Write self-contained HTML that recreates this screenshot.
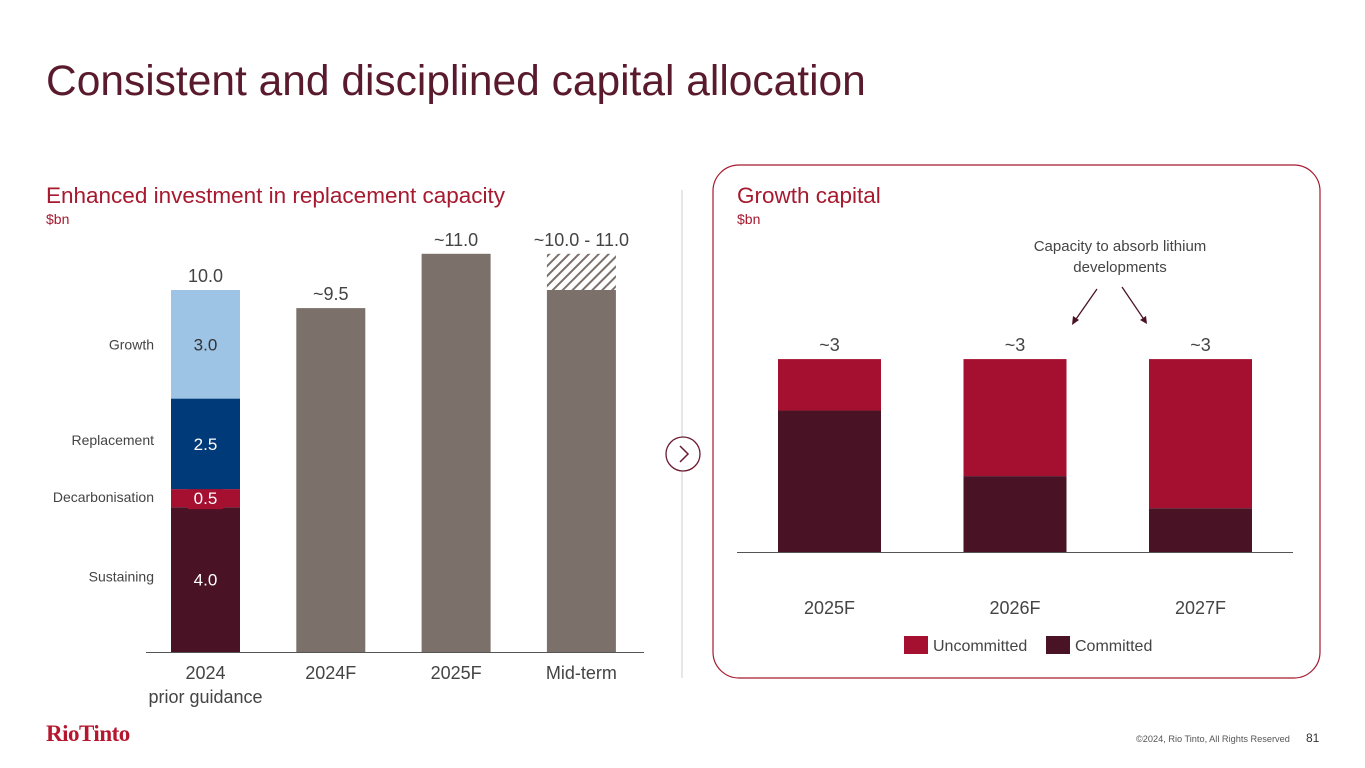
<!DOCTYPE html>
<html><head><meta charset="utf-8"><style>
body{margin:0;width:1365px;height:768px;background:#fff;font-family:"Liberation Sans",sans-serif;overflow:hidden;position:relative}
.t{position:absolute;white-space:nowrap}
</style></head><body>
<div class="t" style="left:46px;top:58px;font-size:42.5px;color:#5a1a2e">Consistent and disciplined capital allocation</div>
<div class="t" style="left:46px;top:183px;font-size:22.5px;color:#a6192e">Enhanced investment in replacement capacity</div>
<div class="t" style="left:46px;top:211px;font-size:14px;color:#a6192e">$bn</div>
<div class="t" style="left:737px;top:183px;font-size:22.5px;color:#a6192e">Growth capital</div>
<div class="t" style="left:737px;top:211px;font-size:14px;color:#a6192e">$bn</div>
<div class="t" style="left:46px;top:721px;font-size:23px;color:#b5172f;font-family:'Liberation Serif',serif;font-weight:bold;letter-spacing:-0.5px">RioTinto</div>
<div class="t" style="left:1136px;top:734px;font-size:9.2px;color:#555">©2024, Rio Tinto, All Rights Reserved</div>
<div class="t" style="left:1306px;top:731px;font-size:12px;color:#333">81</div>
<svg id="s" width="1365" height="768" style="position:absolute;left:0;top:0" font-family="Liberation Sans, sans-serif">
<defs><pattern id="hatch" patternUnits="userSpaceOnUse" width="7" height="7" patternTransform="rotate(45)"><rect width="7" height="7" fill="#fff"/><rect width="2" height="7" fill="#7b706a"/></pattern></defs>
<line x1="682" y1="190" x2="682" y2="678" stroke="#ccc"/>
<rect x="713" y="165" width="607" height="513" rx="26" fill="none" stroke="#a6192e" stroke-width="1.2"/>
<circle cx="683" cy="454" r="17" fill="#fff" stroke="#6b1a30" stroke-width="1.3"/>
<path d="M680 446 L688 454 L680 462" fill="none" stroke="#6b1a30" stroke-width="1.5"/>
<text x="1120" y="251" font-size="15" fill="#444" text-anchor="middle">Capacity to absorb lithium</text>
<text x="1120" y="272" font-size="15" fill="#444" text-anchor="middle">developments</text>
<line x1="1097" y1="289" x2="1074" y2="322" stroke="#4a1325" stroke-width="1.3"/><path d="M1072 325 l1 -9 l6 4z" fill="#4a1325"/>
<line x1="1122" y1="287" x2="1145" y2="321" stroke="#4a1325" stroke-width="1.3"/><path d="M1147 324 l-7 -4 l6 -4z" fill="#4a1325"/>
<rect x="904" y="636" width="24" height="18" fill="#a50f30"/>
<text x="933" y="651" font-size="16" fill="#444">Uncommitted</text>
<rect x="1046" y="636" width="24" height="18" fill="#4a1325"/>
<text x="1075" y="651" font-size="16" fill="#444">Committed</text>
</svg>
<script>
const leftCats=["2024","2024F","2025F","Mid-term"];
const stackNames=["Sustaining","Decarbonisation","Replacement","Growth"];
const stackVals=[4.0,0.5,2.5,3.0];
const totals=[10.0,9.5,11.0,10.0];
const rangeTop=[null,null,null,11.0];
const topLabels=["10.0","~9.5","~11.0","~10.0 - 11.0"];
const rightCats=["2025F","2026F","2027F"];
const committed=[2.2,1.18,0.68];
const rightTotals=[3,3,3];
const rightLabels=["~3","~3","~3"];
const s=document.getElementById('s');const NS='http://www.w3.org/2000/svg';
function mk(t,a,txt){const e=document.createElementNS(NS,t);for(const k in a)e.setAttribute(k,a[k]);if(txt!=null)e.textContent=txt;s.appendChild(e);return e;}
const yL=v=>652-v*36.2, xL=i=>171+i*125.3, bwL=69;
const stackCols=["#4a1325","#a50f30","#003a78","#9dc3e5"];
let base=0;
stackVals.forEach((v,j)=>{const r=mk('rect',{x:xL(0),y:yL(base+v),width:bwL,height:yL(base)-yL(base+v),fill:stackCols[j]});


const cy=(yL(base)+yL(base+v))/2;
if(j==1){mk('rect',{x:xL(0)+17,y:cy-11,width:35,height:22,fill:"#a50f30"});}
const l=mk('text',{x:xL(0)+bwL/2,y:cy+6,'font-size':17,fill:j==3?"#333":"#fff",'text-anchor':'middle'},v.toFixed(1));


const n=mk('text',{x:154,y:cy+(j==0?2:j==1?4:j==2?1:5),'font-size':14,fill:'#444','text-anchor':'end'},stackNames[j]);


base+=v;});
for(let i=1;i<4;i++){const r=mk('rect',{x:xL(i),y:yL(totals[i]),width:bwL,height:652-yL(totals[i]),fill:'#7b706a'});


if(rangeTop[i]!=null){const h=mk('rect',{x:xL(i),y:yL(rangeTop[i]),width:bwL,height:yL(totals[i])-yL(rangeTop[i]),fill:'url(#hatch)'});

}}
for(let i=0;i<4;i++){const top=rangeTop[i]!=null?rangeTop[i]:totals[i];
const t=mk('text',{x:xL(i)+bwL/2,y:yL(top)-8,'font-size':18,fill:'#444','text-anchor':'middle'},topLabels[i]);


const c=mk('text',{x:xL(i)+bwL/2,y:679,'font-size':18,fill:'#444','text-anchor':'middle'},leftCats[i]);

}
const pg=mk('text',{x:xL(0)+bwL/2,y:703,'font-size':18,fill:'#444','text-anchor':'middle'},'prior guidance');


mk('line',{x1:146,x2:644,y1:652.5,y2:652.5,stroke:'#555','stroke-width':1});
const yR=v=>552-v*64.3, xR=i=>778+i*185.5, bwR=103;
rightCats.forEach((c,i)=>{const u=mk('rect',{x:xR(i),y:yR(rightTotals[i]),width:bwR,height:yR(committed[i])-yR(rightTotals[i]),fill:'#a50f30'});


const k=mk('rect',{x:xR(i),y:yR(committed[i]),width:bwR,height:552-yR(committed[i]),fill:'#4a1325'});


const t=mk('text',{x:xR(i)+bwR/2,y:yR(rightTotals[i])-8,'font-size':18,fill:'#444','text-anchor':'middle'},rightLabels[i]);


const x=mk('text',{x:xR(i)+bwR/2,y:614,'font-size':18,fill:'#444','text-anchor':'middle'},c);

});
mk('line',{x1:737,x2:1293,y1:552.5,y2:552.5,stroke:'#555','stroke-width':1});
</script>
</body></html>
